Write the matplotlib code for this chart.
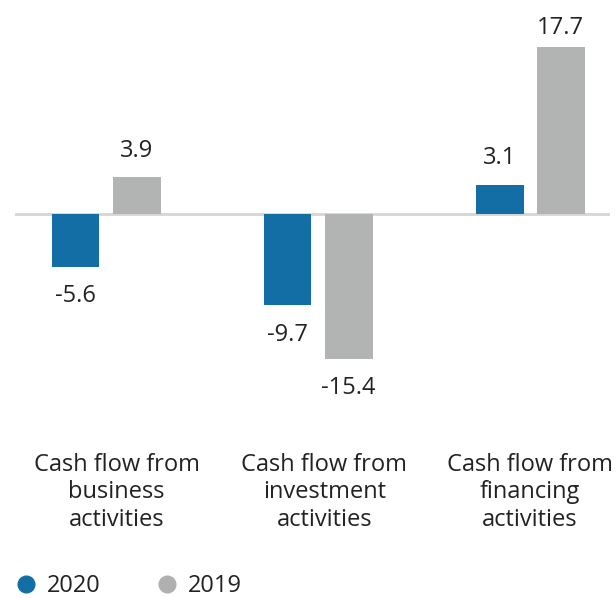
import numpy as np
import matplotlib.pyplot as plt
from matplotlib.lines import Line2D
from matplotlib.transforms import blended_transform_factory

plt.rcParams["font.family"] = ["Open Sans", "DejaVu Sans"]

CATEGORIES = [
    "Cash flow from\nbusiness\nactivities",
    "Cash flow from\ninvestment\nactivities",
    "Cash flow from\nfinancing\nactivities",
]
SERIES = ["2020", "2019"]
VALUES_2020 = [-5.6, -9.7, 3.1]
VALUES_2019 = [3.9, -15.4, 17.7]

BLUE = "#146ea6"
GREY = "#b2b4b4"
TEXT = "#222222"

fig = plt.figure(figsize=(6.16, 5.98), dpi=100)
ax = fig.add_axes([0.0244, 1 - 440 / 598, 0.966, 440 / 598])

x = np.arange(len(CATEGORIES))
width = 0.226
offset = 0.144

for vals, color, shift in ((VALUES_2020, BLUE, -offset), (VALUES_2019, GREY, offset)):
    bars = ax.bar(x + shift, vals, width=width, color=color, linewidth=0)
    for bar, v in zip(bars, vals):
        xc = bar.get_x() + bar.get_width() / 2
        pad = 2.8 if v > 0 else -3.1
        # keep the top label inside the figure
        y = min(v + pad, 19.75)
        ax.text(xc, y, f"{v:.1f}", ha="center", va="center",
                fontsize=17, color=TEXT)

ax.axhline(0, color="#d5d5d2", linewidth=2, zorder=0.5)

ax.set_xlim(-0.429, 2.377)
ax.set_ylim(-23.97, 22.69)

# category labels sit under the bars, nudged a little to the right
label_shift = [0.05, 0.03, 0.0]
trans = blended_transform_factory(ax.transData, fig.transFigure)
for xi, dx, label in zip(x, label_shift, CATEGORIES):
    ax.text(xi + dx, 1 - 453 / 598, label, transform=trans, ha="center",
            va="top", fontsize=17, color=TEXT, linespacing=1.19)

ax.axis("off")

handles = [
    Line2D([], [], marker="o", linestyle="", markersize=12,
           markerfacecolor=c, markeredgecolor=c)
    for c in (BLUE, "#b0b0b0")
]
fig.legend(handles, SERIES, loc="lower left", bbox_to_anchor=(-0.012, -0.036),
           ncol=2, frameon=False, fontsize=17, handletextpad=0.4,
           columnspacing=2.3, labelcolor=TEXT, handlelength=1.0)

fig.savefig("out.png", dpi=100)
